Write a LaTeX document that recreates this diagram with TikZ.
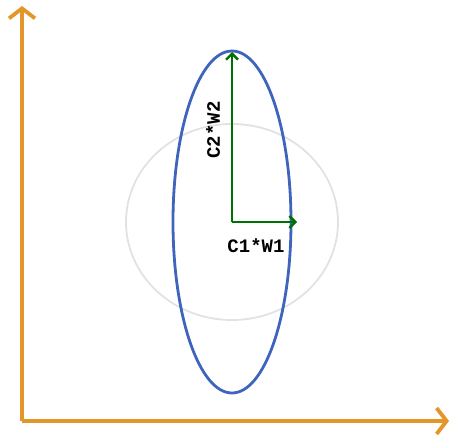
\documentclass[tikz,border=0pt]{standalone}
\usepackage{fontspec}
\setmonofont{Liberation Mono}
\usepackage{xcolor}
\usetikzlibrary{arrows.meta,positioning}

\definecolor{axisorange}{RGB}{228,150,40}
\definecolor{ellblue}{RGB}{62,100,188}
\definecolor{vecgreen}{RGB}{0,112,0}
\definecolor{circgray}{RGB}{226,226,226}

\begin{document}
\begin{tikzpicture}[
  x=1pt, y=-1pt,
  axis/.style={axisorange, line width=4.4pt, -{Straight Barb[length=10pt, width=26pt, line width=3.8pt]}},
  vec/.style={vecgreen, line width=2.8pt, -{Straight Barb[length=6pt, width=12pt, line width=2.4pt]}},
  lbl/.style={font=\fontsize{19}{19}\selectfont\ttfamily\bfseries, inner sep=0pt},
]
  \useasboundingbox (0,0) rectangle (451,439);

  % Axes
  \coordinate (orig) at (22,421);
  \coordinate (ytop) at (22,6);
  \coordinate (xend) at (449,421);
  \draw[axis] (orig) -- (ytop);
  \draw[axis] (orig) -- (xend);

  % Unit circle and stretched ellipse
  \coordinate (ctr) at (232,222);
  \draw[circgray, line width=1.8pt] (ctr) ellipse [x radius=106, y radius=98];
  \draw[ellblue, line width=2.8pt] (ctr) ellipse [x radius=59, y radius=171];

  % Scaled vectors
  \coordinate (w1) at (297,222);
  \coordinate (w2) at (232,52);
  \draw[vec] (ctr) -- (w1);
  \draw[vec] (ctr) -- (w2);

  % Labels
  \node[lbl] (l1) at (256,246) {C1*W1};
  \node[lbl, rotate=90] (l2) at (213,130) {C2*W2};
\end{tikzpicture}
\end{document}
